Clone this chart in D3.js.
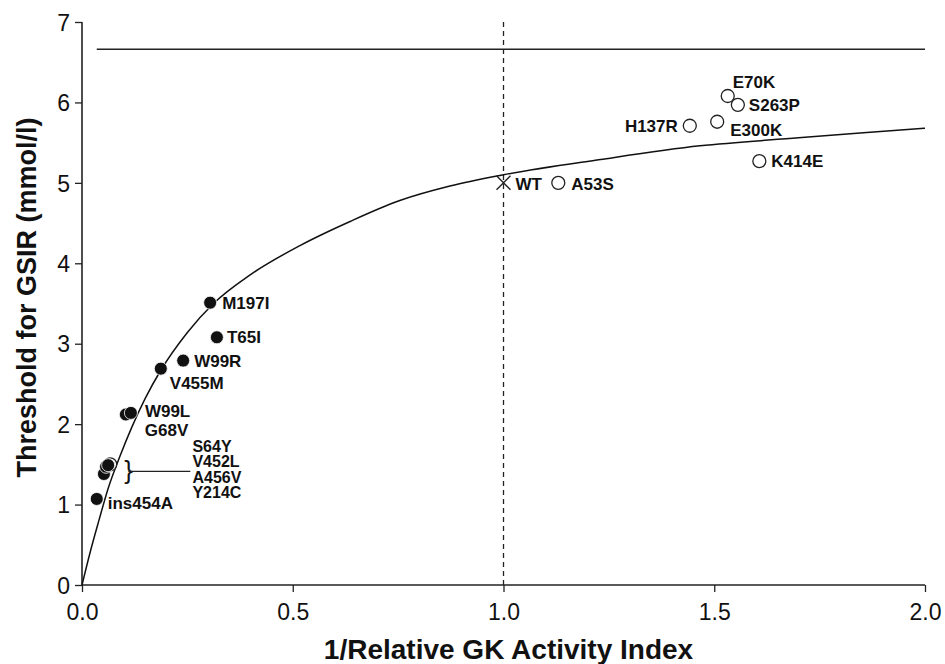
<!DOCTYPE html>
<html>
<head>
<meta charset="utf-8">
<script src="https://cdn.jsdelivr.net/npm/d3@7"></script>
<style>
  body { margin: 0; background: #fff; }
  text { font-family: "Liberation Sans", Arial, sans-serif; fill: #111; }
</style>
</head>
<body>
<div id="chart-area"></div>
<script>
/*
 *    GK activity vs GSIR threshold
 */

// mutation points
const names   = ["ins454A", "S64Y", "V452L", "A456V", "Y214C", "G68V", "W99L", "V455M", "W99R", "M197I", "T65I",
                 "WT", "A53S", "H137R", "E300K", "E70K", "S263P", "K414E"];
const xValues = [0.035, 0.067, 0.052, 0.057, 0.062, 0.104, 0.116, 0.187, 0.240, 0.304, 0.320,
                 1.0, 1.13, 1.442, 1.507, 1.532, 1.556, 1.607];
const yValues = [1.07, 1.50, 1.38, 1.47, 1.49, 2.12, 2.14, 2.69, 2.79, 3.51, 3.08,
                 5.0, 5.0, 5.71, 5.76, 6.08, 5.97, 5.27];
const kinds   = ["filled", "open", "filled", "filled", "filled", "filled", "filled", "filled", "filled", "filled", "filled",
                 "cross", "open", "open", "open", "open", "open", "open"];

// fitted curve
const curveX = [0, 0.02, 0.04, 0.062, 0.09, 0.118, 0.15, 0.187, 0.25, 0.312, 0.4, 0.517, 0.636, 0.754, 0.873, 1.0, 1.23, 1.466, 1.7, 1.846, 2.0];
const curveY = [0, 0.42, 0.80, 1.20, 1.60, 1.96, 2.32, 2.67, 3.14, 3.50, 3.86, 4.22, 4.52, 4.78, 4.96, 5.10, 5.29, 5.46, 5.56, 5.62, 5.68];

const xTicks = [0, 0.5, 1.0, 1.5, 2.0];
const yTicks = [0, 1, 2, 3, 4, 5, 6, 7];
const limitLine = 6.66;
const clusterLabels = ["S64Y", "V452L", "A456V", "Y214C"];

const margin = { top: 22, right: 20, bottom: 79, left: 82 };
const width = 945 - margin.left - margin.right;
const height = 664 - margin.top - margin.bottom;

const svg = d3.select("#chart-area")
    .append("svg")
    .attr("width", 945)
    .attr("height", 664);
const g = svg.append("g")
    .attr("transform", "translate(" + margin.left + ", " + margin.top + ")");

const x = d3.scaleLinear().domain([0, 2]).range([0, width]);
const y = d3.scaleLinear().domain([0, 7]).range([height, 0]);

/** Axes */
const bottomAxis = d3.axisBottom(x).tickValues(xTicks).tickSize(7).tickPadding(5).tickFormat(d3.format(".1f"));
const leftAxis = d3.axisLeft(y).tickValues(yTicks).tickSize(7).tickPadding(5).tickFormat(d3.format("d"));

const xg = g.append("g")
    .attr("class", "bottom axis")
    .attr("transform", "translate(0, " + height + ")")
    .call(bottomAxis);
const yg = g.append("g").attr("class", "left axis").call(leftAxis);

[xg, yg].forEach((a) => {
    a.select(".domain").attr("stroke", "#222").attr("stroke-width", 1.6).attr("d",
        a === xg ? "M0,0H" + width : "M0," + height + "V0");
    a.selectAll(".tick line").attr("stroke", "#222").attr("stroke-width", 1.3);
    a.selectAll("text").style("font-size", "23px").style("fill", "#111").attr("font-family", null);
});
xg.selectAll("text").attr("dy", "1.0em");
yg.selectAll("text").attr("dy", "0.36em");

/** Labeling */
g.append("text")
    .attr("x", width / 2 + 5)
    .attr("y", height + 74)
    .attr("font-size", "28px")
    .attr("font-weight", "bold")
    .attr("text-anchor", "middle")
    .text("1/Relative GK Activity Index");

g.append("text")
    .attr("x", -(height / 2) + 6)
    .attr("y", -46)
    .attr("font-size", "27px")
    .attr("font-weight", "bold")
    .attr("text-anchor", "middle")
    .attr("transform", "rotate(-90)")
    .text("Threshold for GSIR (mmol/l)");

/** Reference lines */
g.append("line")
    .attr("x1", x(0.035)).attr("x2", x(2))
    .attr("y1", y(limitLine)).attr("y2", y(limitLine))
    .attr("stroke", "#222").attr("stroke-width", 1.5);

g.append("line")
    .attr("x1", x(1)).attr("x2", x(1))
    .attr("y1", y(7)).attr("y2", y(0))
    .attr("stroke", "#222").attr("stroke-width", 1.3)
    .attr("stroke-dasharray", "5,4");

/** Curve */
const line = d3.line()
    .x((d, i) => x(curveX[i]))
    .y((d) => y(d))
    .curve(d3.curveMonotoneX);
g.append("path")
    .datum(curveY)
    .attr("d", line)
    .attr("fill", "none")
    .attr("stroke", "#111")
    .attr("stroke-width", 1.5);

/** Points */
const data = names.map((n, i) => ({ name: n, x: xValues[i], y: yValues[i], kind: kinds[i] }));

g.selectAll("circle.pt")
    .data(data.filter((d) => d.kind !== "cross"))
    .enter()
    .append("circle")
    .attr("class", "pt")
    .attr("cx", (d) => x(d.x))
    .attr("cy", (d) => y(d.y))
    .attr("r", 6.5)
    .attr("fill", (d) => d.kind === "open" ? "#fff" : "#111")
    .attr("stroke", (d) => d.kind === "open" ? "#222" : "#fff")
    .attr("stroke-width", (d) => d.kind === "open" ? 1.3 : 0.8);

data.filter((d) => d.kind === "cross").forEach((d) => {
    const s = 7;
    g.append("path")
        .attr("d", `M${x(d.x) - s},${y(d.y) - s}L${x(d.x) + s},${y(d.y) + s}M${x(d.x) - s},${y(d.y) + s}L${x(d.x) + s},${y(d.y) - s}`)
        .attr("stroke", "#222")
        .attr("stroke-width", 1.4)
        .attr("fill", "none");
});

/** Point labels: offset from the point (px) */
const labelOffset = {
    "ins454A": [11, 10, "start"],
    "G68V": [19, 22, "start"],
    "W99L": [14, 4, "start"],
    "V455M": [9, 20, "start"],
    "W99R": [11, 6, "start"],
    "M197I": [12, 6, "start"],
    "T65I": [10, 6, "start"],
    "WT": [12, 7, "start"],
    "A53S": [13, 7, "start"],
    "H137R": [-12, 6, "end"],
    "E300K": [13, 14, "start"],
    "E70K": [5, -8, "start"],
    "S263P": [11, 6, "start"],
    "K414E": [12, 6, "start"]
};

g.selectAll("text.lbl")
    .data(data.filter((d) => labelOffset[d.name]))
    .enter()
    .append("text")
    .attr("class", "lbl")
    .attr("x", (d) => x(d.x) + labelOffset[d.name][0])
    .attr("y", (d) => y(d.y) + labelOffset[d.name][1])
    .attr("text-anchor", (d) => labelOffset[d.name][2])
    .attr("font-size", "17px")
    .attr("font-weight", "bold")
    .text((d) => d.name);

// bracketed cluster
const cy = y(1.42);
g.append("text")
    .attr("x", x(0.1))
    .attr("y", cy + 8)
    .attr("font-size", "26px")
    .text("}");
g.append("line")
    .attr("x1", x(0.11)).attr("x2", x(0.257))
    .attr("y1", cy + 0.5).attr("y2", cy + 0.5)
    .attr("stroke", "#222").attr("stroke-width", 1.3);
g.selectAll("text.cl")
    .data(clusterLabels)
    .enter()
    .append("text")
    .attr("class", "cl")
    .attr("x", x(0.262))
    .attr("y", (d, i) => cy - 19 + i * 15.4)
    .attr("font-size", "16px")
    .attr("font-weight", "bold")
    .text((d) => d);
</script>
</body>
</html>
